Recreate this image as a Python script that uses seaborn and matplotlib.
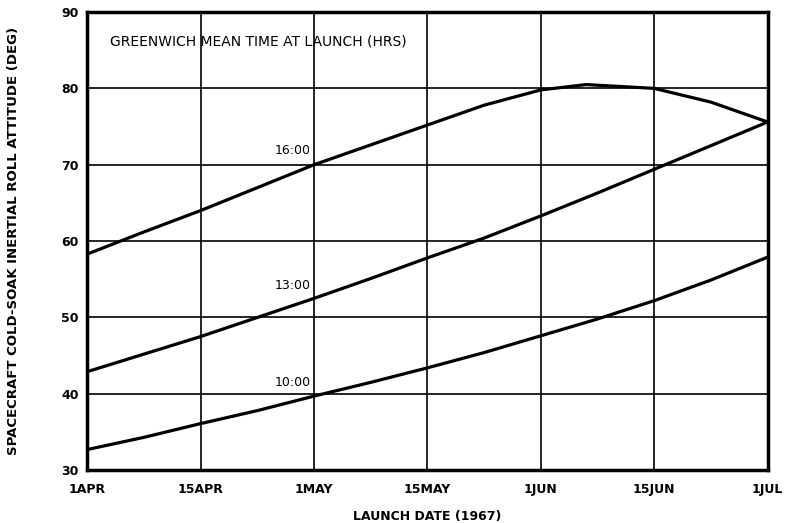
import numpy as np
import pandas as pd
import seaborn as sns
import matplotlib.pyplot as plt

# x positions in half-month steps: 0 = 1APR ... 6 = 1JUL
tick_labels = ["1APR", "15APR", "1MAY", "15MAY", "1JUN", "15JUN", "1JUL"]

x_16 = [0, 0.5, 1, 1.5, 2, 2.5, 3, 3.5, 4, 4.4, 5, 5.5, 6]
y_16 = [58.3, 61.2, 64.0, 67.0, 70.0, 72.6, 75.2, 77.8, 79.8, 80.5, 80.0, 78.2, 75.6]

x_13 = [0, 0.5, 1, 1.5, 2, 2.5, 3, 3.5, 4, 4.5, 5, 5.5, 6]
y_13 = [42.9, 45.2, 47.5, 50.0, 52.5, 55.1, 57.8, 60.4, 63.3, 66.3, 69.4, 72.5, 75.6]

x_10 = [0, 0.5, 1, 1.5, 2, 2.5, 3, 3.5, 4, 4.5, 5, 5.5, 6]
y_10 = [32.7, 34.3, 36.1, 37.8, 39.7, 41.5, 43.4, 45.4, 47.6, 49.8, 52.2, 54.9, 57.9]

df = pd.concat([
    pd.DataFrame({"x": x_16, "y": y_16, "gmt": "16:00"}),
    pd.DataFrame({"x": x_13, "y": y_13, "gmt": "13:00"}),
    pd.DataFrame({"x": x_10, "y": y_10, "gmt": "10:00"}),
])

sns.set_style("white")
plt.rcParams["font.family"] = ["DejaVu Sans"]
plt.rcParams.update({"text.color": "black", "axes.labelcolor": "black",
                     "xtick.color": "black", "ytick.color": "black"})

fig = plt.figure(figsize=(7.93, 5.23), dpi=100)
ax = fig.add_axes([0.110, 0.101, 0.858, 0.876])

sns.lineplot(data=df, x="x", y="y", units="gmt", estimator=None, sort=False,
             color="black", linewidth=2.3, ax=ax, legend=False)

ax.set_xlim(0, 6)
ax.set_ylim(30, 90)
ax.set_xticks(range(7))
ax.set_xticklabels(tick_labels)
ax.set_yticks(range(30, 91, 10))
ax.grid(True, color="black", linewidth=1.2)
for s in ax.spines.values():
    s.set_linewidth(2.5)
    s.set_color("black")
ax.tick_params(length=0, labelsize=9)
ax.tick_params(axis="x", pad=9)
ax.tick_params(axis="y", pad=6)
for lab in ax.get_xticklabels() + ax.get_yticklabels():
    lab.set_fontweight("bold")

ax.set_xlabel("LAUNCH DATE (1967)", fontsize=9, fontweight="bold", labelpad=10)
ax.set_ylabel("SPACECRAFT COLD-SOAK INERTIAL ROLL ATTITUDE (DEG)", fontsize=9.5,
              fontweight="bold", labelpad=30)

ax.text(0.2, 86.2, "GREENWICH MEAN TIME AT LAUNCH (HRS)", fontsize=10, va="center")
ax.text(1.97, 71.0, "16:00", fontsize=9, ha="right", va="bottom")
ax.text(1.97, 53.3, "13:00", fontsize=9, ha="right", va="bottom")
ax.text(1.97, 40.6, "10:00", fontsize=9, ha="right", va="bottom")

fig.savefig("out.png", dpi=100)
